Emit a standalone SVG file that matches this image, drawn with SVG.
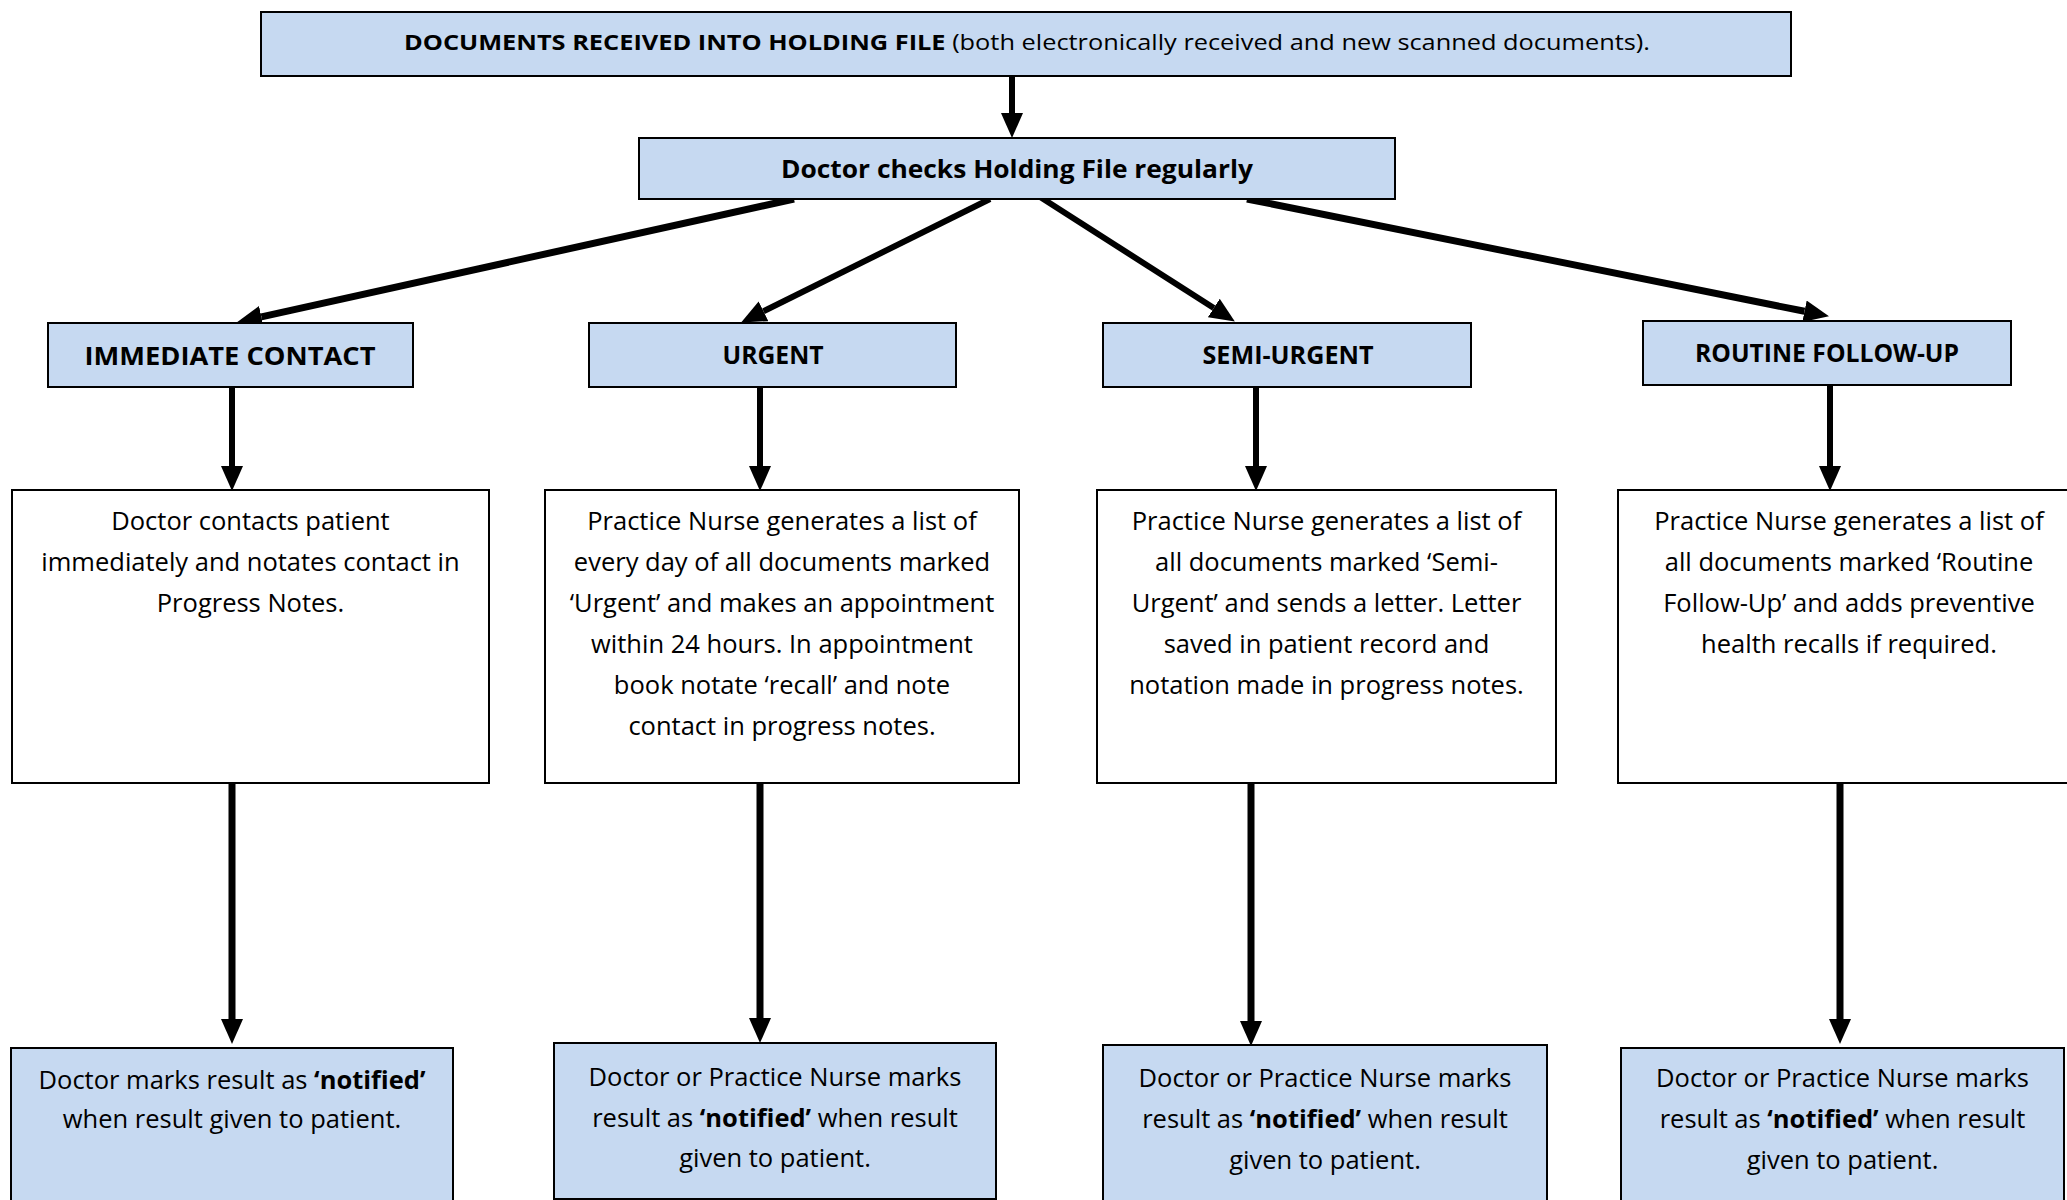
<svg xmlns="http://www.w3.org/2000/svg" width="2067" height="1200" viewBox="0 0 2067 1200">
<defs>
<style>
.blue{fill:#c6d9f1;stroke:#000;stroke-width:2}
.white{fill:#fff;stroke:#000;stroke-width:2}
text{font-family:"Open Sans","Liberation Sans",sans-serif;fill:#000}
.body{font-size:25.5px;text-anchor:middle}
.hdr{font-size:25px;font-weight:bold;text-anchor:middle}
.b{font-weight:bold}
.conn line{stroke:#000;fill:none}
</style>
<marker id="ah" markerUnits="userSpaceOnUse" markerWidth="26" markerHeight="22" refX="0" refY="11" orient="auto" viewBox="0 0 26 22">
<path d="M0,0 L25,11 L0,22 Z" fill="#000"/>
</marker>
</defs>
<rect width="2067" height="1200" fill="#fff"/>

<g id="connectors" class="conn">
<line x1="1012" y1="76" x2="1012" y2="113" stroke-width="6" marker-end="url(#ah)"/>
<line x1="794" y1="199" x2="261.4" y2="316.8" stroke-width="7" marker-end="url(#ah)"/>
<line x1="990" y1="199" x2="763.5" y2="311.3" stroke-width="6" marker-end="url(#ah)"/>
<line x1="1037" y1="195" x2="1213.8" y2="308" stroke-width="6" marker-end="url(#ah)"/>
<line x1="1247" y1="199" x2="1804.5" y2="311.3" stroke-width="7" marker-end="url(#ah)"/>
<line x1="232" y1="387" x2="232" y2="466" stroke-width="6" marker-end="url(#ah)"/>
<line x1="760" y1="387" x2="760" y2="466" stroke-width="6" marker-end="url(#ah)"/>
<line x1="1256" y1="387" x2="1256" y2="466" stroke-width="6" marker-end="url(#ah)"/>
<line x1="1830" y1="385" x2="1830" y2="466" stroke-width="6" marker-end="url(#ah)"/>
<line x1="232" y1="783" x2="232" y2="1019" stroke-width="7" marker-end="url(#ah)"/>
<line x1="760" y1="783" x2="760" y2="1018" stroke-width="7" marker-end="url(#ah)"/>
<line x1="1251" y1="783" x2="1251" y2="1021" stroke-width="7" marker-end="url(#ah)"/>
<line x1="1840" y1="783" x2="1840" y2="1019" stroke-width="7" marker-end="url(#ah)"/>
</g>

<g id="n-documents">
<rect class="blue" x="261" y="12" width="1530" height="64"/>
<text x="404" y="50" font-size="21" textLength="1246" lengthAdjust="spacingAndGlyphs"><tspan class="b">DOCUMENTS RECEIVED INTO HOLDING FILE</tspan> (both electronically received and new scanned documents).</text>
</g>

<g id="n-doctor-checks">
<rect class="blue" x="639" y="138" width="756" height="61"/>
<text class="hdr" x="1017" y="178" textLength="472" lengthAdjust="spacingAndGlyphs">Doctor checks Holding File regularly</text>
</g>

<g id="n-immediate">
<rect class="blue" x="48" y="323" width="365" height="64"/>
<text class="hdr" x="230" y="365" font-size="27" textLength="291" lengthAdjust="spacingAndGlyphs">IMMEDIATE CONTACT</text>
</g>
<g id="n-urgent">
<rect class="blue" x="589" y="323" width="367" height="64"/>
<text class="hdr" x="773" y="364" textLength="101" lengthAdjust="spacingAndGlyphs">URGENT</text>
</g>
<g id="n-semi-urgent">
<rect class="blue" x="1103" y="323" width="368" height="64"/>
<text class="hdr" x="1288" y="364" textLength="171" lengthAdjust="spacingAndGlyphs">SEMI-URGENT</text>
</g>
<g id="n-routine">
<rect class="blue" x="1643" y="321" width="368" height="64"/>
<text class="hdr" x="1827" y="362" textLength="264" lengthAdjust="spacingAndGlyphs">ROUTINE FOLLOW-UP</text>
</g>

<g id="n-immediate-action">
<rect class="white" x="12" y="490" width="477" height="293"/>
<text class="body" x="250.5" y="530">Doctor contacts patient</text>
<text class="body" x="250.5" y="571">immediately and notates contact in</text>
<text class="body" x="250.5" y="612">Progress Notes.</text>
</g>
<g id="n-urgent-action">
<rect class="white" x="545" y="490" width="474" height="293"/>
<text class="body" x="782" y="530">Practice Nurse generates a list of</text>
<text class="body" x="782" y="571">every day of all documents marked</text>
<text class="body" x="782" y="612">‘Urgent’ and makes an appointment</text>
<text class="body" x="782" y="653">within 24 hours. In appointment</text>
<text class="body" x="782" y="694">book notate ‘recall’ and note</text>
<text class="body" x="782" y="735">contact in progress notes.</text>
</g>
<g id="n-semi-urgent-action">
<rect class="white" x="1097" y="490" width="459" height="293"/>
<text class="body" x="1326.5" y="530">Practice Nurse generates a list of</text>
<text class="body" x="1326.5" y="571">all documents marked ‘Semi-</text>
<text class="body" x="1326.5" y="612">Urgent’ and sends a letter. Letter</text>
<text class="body" x="1326.5" y="653">saved in patient record and</text>
<text class="body" x="1326.5" y="694">notation made in progress notes.</text>
</g>
<g id="n-routine-action">
<rect class="white" x="1618" y="490" width="462" height="293"/>
<text class="body" x="1849" y="530">Practice Nurse generates a list of</text>
<text class="body" x="1849" y="571">all documents marked ‘Routine</text>
<text class="body" x="1849" y="612">Follow-Up’ and adds preventive</text>
<text class="body" x="1849" y="653">health recalls if required.</text>
</g>

<g id="n-immediate-notified">
<rect class="blue" x="11" y="1048" width="442" height="165"/>
<text class="body" x="232" y="1089">Doctor marks result as <tspan class="b">‘notified’</tspan></text>
<text class="body" x="232" y="1128">when result given to patient.</text>
</g>
<g id="n-urgent-notified">
<rect class="blue" x="554" y="1043" width="442" height="156"/>
<text class="body" x="775" y="1086">Doctor or Practice Nurse marks</text>
<text class="body" x="775" y="1127">result as <tspan class="b">‘notified’</tspan> when result</text>
<text class="body" x="775" y="1167">given to patient.</text>
</g>
<g id="n-semi-urgent-notified">
<rect class="blue" x="1103" y="1045" width="444" height="168"/>
<text class="body" x="1325" y="1087">Doctor or Practice Nurse marks</text>
<text class="body" x="1325" y="1128">result as <tspan class="b">‘notified’</tspan> when result</text>
<text class="body" x="1325" y="1169">given to patient.</text>
</g>
<g id="n-routine-notified">
<rect class="blue" x="1621" y="1048" width="443" height="165"/>
<text class="body" x="1842.5" y="1087">Doctor or Practice Nurse marks</text>
<text class="body" x="1842.5" y="1128">result as <tspan class="b">‘notified’</tspan> when result</text>
<text class="body" x="1842.5" y="1169">given to patient.</text>
</g>
</svg>
